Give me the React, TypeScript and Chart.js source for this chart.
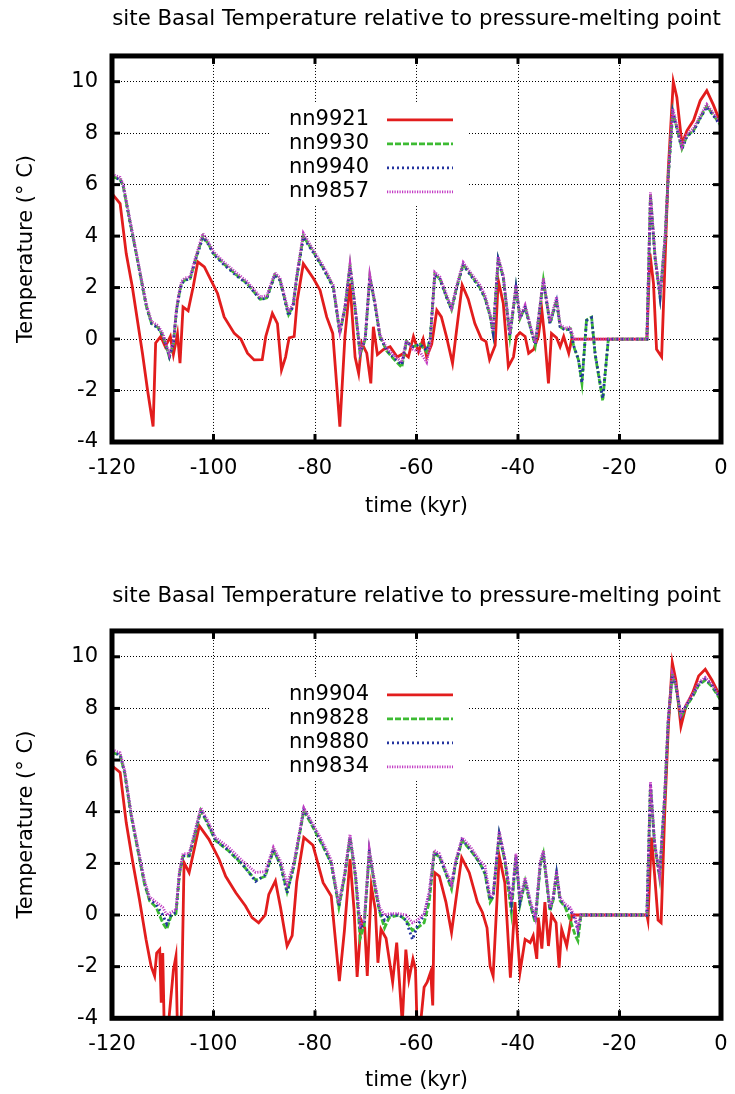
import React, { useEffect, useRef } from "react";
import { Chart, registerables } from "chart.js";

Chart.register(...registerables);

// ---------- text ----------
const chartTitle = "site Basal Temperature relative to pressure-melting point";
const xAxisLabel = "time (kyr)";
const yAxisLabel = "Temperature (\u00B0 C)";

// ---------- axes ----------
const xMin = -120;
const xMax = 0;
const xStep = 20;
const yMin = -4;
const yMax = 11;
const yStep = 2;

// ---------- top panel ----------
const topNames = ["nn9921", "nn9930", "nn9940", "nn9857"];

const topRedTime = [
  -120, -118.4, -117.2, -116, -115, -114, -113, -111.9, -111.4, -110.4,
  -109.5, -108.5, -107.9, -107.1, -106.6, -106, -105, -104, -103.1, -101.8,
  -100.5, -99.2, -97.9, -95.9, -94.6, -93.3, -92, -90.4, -89.7, -88.4,
  -87.4, -86.6, -85.8, -85.1, -84.1, -83.5, -82.3, -80.3, -79, -77.7,
  -76.5, -75.1, -74.1, -73.1, -72.1, -71.4, -70.8, -69.8, -69, -68.5,
  -67.7, -66.5, -65.2, -63.8, -62.5, -61.6, -60.6, -59.6, -58.7, -58,
  -57, -56, -55.1, -54.1, -52.9, -52.1, -51, -49.8, -48.5, -47.2,
  -46.3, -45.6, -44.5, -43.9, -42.9, -41.9, -40.9, -40.3, -39.6, -38.6,
  -37.9, -36.9, -36, -35.3, -34.7, -34, -33.4, -32.4, -31.7, -31,
  -30, -29.4, -14.6, -14, -13.3, -12.7, -11.7, -11.1, -10.4, -9.4,
  -8.7, -7.7, -6.7, -5.4, -4.1, -2.8, -1.5, 0,
];
const topRedTemp = [
  5.65, 5.26, 3.32, 2.03, 0.74, -0.55, -1.98, -3.4, -0.15, 0.1,
  -0.3, 0.1, -0.6, 0.2, -0.94, 1.25, 1.1, 2.03, 3.0, 2.8,
  2.29, 1.77, 0.86, 0.22, 0, -0.55, -0.81, -0.8, 0.1, 1.0,
  0.6, -1.2, -0.7, 0.05, 0.1, 1.5, 2.93, 2.35, 1.9, 0.86,
  0.22, -3.4, 0.1, 2.16, -0.7, -1.33, -0.15, -0.55, -1.72, 0.48,
  -0.6, -0.4, -0.3, -0.7, -0.55, -0.7, 0.1, -0.5, 0, -0.7,
  -0.2, 1.12, 0.86, 0.1, -0.94, 0.35, 2.1, 1.55, 0.6, 0,
  -0.1, -0.8, -0.25, 2.29, 1.38, -1.07, -0.7, 0.1, 0.25, 0.1,
  -0.55, -0.4, 0.1, 1.12, 0, -1.72, 0.22, 0.05, -0.3, 0.1,
  -0.55, 0, 0, 3.32, 2.16, -0.4, -0.69, 2.6, 6.55, 10.0,
  9.4, 7.58, 8.1, 8.5, 9.26, 9.65, 9.1, 8.36,
];

const topGroupTime = [
  -120, -118.4, -117.8, -116.5, -115.1, -114.1, -113.2, -112.2, -110.9, -109.9,
  -108.7, -107.9, -107.3, -106.8, -106.3, -105.6, -104.6, -103.6, -102.1, -101,
  -100, -98, -95.4, -93.4, -90.8, -89.5, -87.9, -86.9, -85.2, -84.3,
  -83.6, -82.3, -80.3, -78.4, -76.4, -75.1, -74.1, -73.1, -72.2, -71.1,
  -70.1, -69.2, -68.2, -67.2, -65.9, -64.6, -62.9, -62, -60.7, -59.3,
  -58, -57.3, -56.4, -55.4, -54, -53.1, -52.1, -50.8, -49.5, -47.5,
  -46.5, -45.5, -44.9, -43.9, -42.9, -41.6, -40.4, -39.6, -38.6, -37.6,
  -36.6, -35, -33.7, -32.4, -31.7, -30.7, -29.7, -29, -28.1, -27.4,
  -26.5, -25.5, -24.8, -23.3, -22.2, -14.6, -13.9, -13, -12, -11,
  -10.4, -9.5, -8.7, -7.7, -6.7, -5.4, -4.1, -2.8, -1.5, 0,
];
const topGreenTemp = [
  6.32, 6.2, 5.95, 4.6, 3.19, 2.16, 1.25, 0.6, 0.45, 0.1,
  -0.7, -0.17, 1.1, 1.7, 2.16, 2.3, 2.35, 3.06, 4.0, 3.7,
  3.32, 2.93, 2.48, 2.16, 1.55, 1.6, 2.5, 2.3, 0.95, 1.3,
  2.4, 4.0, 3.38, 2.77, 2.03, 0.22, 1.2, 2.85, 1.38, -0.6,
  0.0, 2.41, 1.38, 0.1, -0.45, -0.75, -1.1, -0.1, -0.3, -0.2,
  -0.5, 0, 2.5, 2.35, 1.6, 1.15, 2.0, 2.9, 2.55, 2.0,
  1.6, 0.9, 0.22, 3.1, 2.4, 0.1, 2.0, 0.8, 1.25, 0.48,
  -0.25, 2.29, 0.6, 1.5, 0.48, 0.35, 0.4, -0.3, -0.8, -1.72,
  0.74, 0.85, -0.6, -2.4, 0, 0, 5.6, 3.19, 1.64, 3.97,
  6.3, 8.85, 8.2, 7.4, 7.9, 8.1, 8.6, 9.05, 8.7, 8.3,
];
const topBlueTemp = [
  6.3, 6.2, 5.95, 4.6, 3.2, 2.15, 1.25, 0.6, 0.42, 0.1,
  -0.68, -0.15, 1.1, 1.7, 2.15, 2.28, 2.35, 3.05, 3.95, 3.68,
  3.3, 2.9, 2.45, 2.15, 1.55, 1.58, 2.5, 2.28, 0.9, 1.28,
  2.38, 3.95, 3.35, 2.75, 2.0, 0.25, 1.2, 2.8, 1.38, -0.55,
  0.0, 2.4, 1.36, 0.1, -0.42, -0.7, -1.0, -0.1, -0.3, -0.2,
  -0.45, 0, 2.5, 2.33, 1.58, 1.13, 1.98, 2.88, 2.52, 1.98,
  1.58, 0.9, 0.24, 3.1, 2.38, 0.12, 2.0, 0.8, 1.24, 0.48,
  -0.22, 2.27, 0.6, 1.48, 0.48, 0.35, 0.38, -0.28, -0.78, -1.7,
  0.72, 0.83, -0.58, -2.3, 0, 0, 5.55, 3.15, 1.62, 3.95,
  6.28, 8.82, 8.2, 7.38, 7.88, 8.08, 8.58, 9.02, 8.68, 8.28,
];
const topMagentaTemp = [
  6.4, 6.28, 6.02, 4.68, 3.27, 2.24, 1.33, 0.68, 0.52, 0.18,
  -0.6, -0.1, 1.18, 1.78, 2.24, 2.38, 2.42, 3.14, 4.1, 3.78,
  3.4, 3.0, 2.56, 2.24, 1.64, 1.68, 2.58, 2.38, 1.05, 1.38,
  2.48, 4.12, 3.45, 2.85, 2.1, 0.3, 1.28, 2.9, 1.45, -0.5,
  0.08, 2.48, 1.45, 0.18, -0.35, -0.6, -0.9, -0.05, -0.4, -0.5,
  -0.9, -0.2, 2.6, 2.42, 1.68, 1.22, 2.08, 2.98, 2.62, 2.1,
  1.7, 0.98, 0.3, 3.2, 2.48, 0.2, 2.1, 0.88, 1.32, 0.56,
  -0.15, 2.36, 0.68, 1.64, 0.56, 0.42, 0.46, 0, 0, 0,
  0, 0, 0, 0, 0, 0, 5.7, 3.25, 1.7, 4.05,
  6.38, 8.95, 8.3, 7.48, 7.98, 8.18, 8.68, 9.12, 8.78, 8.36,
];

// ---------- bottom panel ----------
const bottomNames = ["nn9904", "nn9828", "nn9880", "nn9834"];

const bottomRedTime = [
  -120, -118.4, -117.2, -115.9, -114.6, -113.3, -112.3, -111.6, -111.2, -110.6,
  -110.3, -110, -109.7, -109, -107.9, -107.4, -107.1, -106.4, -105.8, -104.8,
  -103.8, -102.8, -100.9, -98.9, -97.6, -95.6, -93.7, -92.4, -91.1, -89.8,
  -89.1, -87.8, -86.8, -85.5, -84.5, -83.6, -82.2, -80.4, -78.4, -76.8,
  -75.2, -74.2, -73.1, -72.3, -71.7, -70.9, -70.2, -69.7, -68.9, -68.1,
  -67.6, -67, -66, -64.7, -63.9, -62.8, -62.1, -61.5, -60.7, -60.2,
  -59.9, -59.2, -58.5, -57.9, -57.2, -56.8, -56.4, -55.5, -54.2, -53.1,
  -52.3, -51.1, -49.6, -48, -47, -46.1, -45.5, -44.9, -43.7, -42.6,
  -41.5, -40.6, -39.6, -38.6, -37.6, -37, -36.3, -36, -35.3, -34.7,
  -34, -33.4, -32.5, -31.9, -31.4, -30.4, -29.4, -14.6, -14.4, -13.7,
  -13.1, -12.4, -11.8, -11.1, -10.4, -9.6, -8.9, -7.9, -6.9, -5.6,
  -4.4, -3.1, -1.8, 0,
];
const bottomRedTemp = [
  5.78, 5.52, 3.58, 2.03, 0.61, -0.94, -1.98, -2.36, -1.47, -1.34,
  -3.4, -1.47, -4.5, -4.5, -2.13, -1.6, -4.5, -4.5, 2.03, 1.64,
  2.55, 3.45, 2.93, 2.16, 1.5, 0.86, 0.35, -0.1, -0.3, 0.0,
  0.8, 1.32, 0.3, -1.2, -0.8, 1.3, 3.0, 2.7, 1.25, 0.74,
  -2.56, -0.6, 2.16, 0.2, -2.4, -0.2, -0.5, -2.36, 1.12, 0.2,
  -1.85, -0.55, -0.9, -2.6, -1.07, -4.2, -1.34, -2.5, -1.7, -2.1,
  -4.2, -4.2, -2.8, -2.6, -2.2, -3.5, 1.64, 1.5, 0.5, -0.68,
  0.5, 2.22, 1.64, 0.5, 0.1, -0.5, -1.98, -2.36, 2.29, 1.25,
  -2.43, 0.5, -2.2, -0.94, -1.07, -0.8, -1.7, -0.1, -1.3, 0.5,
  -1.2, 0, -0.3, -2.04, -0.55, -1.2, 0, 0, -0.2, 3.0,
  1.6, -0.2, -0.3, 3.9, 7.2, 9.78, 9.1, 7.3, 8.1, 8.6,
  9.26, 9.52, 9.1, 8.4,
];

const bottomGroupTime = [
  -120, -118.4, -117.5, -116.2, -114.9, -113.6, -112.6, -111.3, -110, -109.2,
  -108.4, -107.4, -106.7, -106, -104.8, -103.8, -102.5, -101.2, -99.6, -97,
  -94.3, -91.7, -89.8, -88.2, -86.8, -85.5, -84.2, -83.6, -82.2, -80.4,
  -78.4, -76.8, -75.3, -74.2, -73.1, -72, -71.1, -70.3, -69.3, -68.3,
  -67.3, -66.3, -65.4, -63.4, -62.1, -60.8, -59.8, -58.5, -57.5, -56.5,
  -55.5, -54.2, -53.1, -52.3, -51, -49.3, -47.5, -46.5, -45.5, -44.9,
  -43.7, -42.6, -41.3, -40.4, -39.6, -38.6, -37.6, -36.6, -35.6, -35,
  -33.7, -33.1, -32.4, -31.7, -30.7, -29.7, -28.7, -28.2, -27.6, -14.6,
  -13.9, -13.1, -12.1, -11.1, -10.4, -9.6, -8.9, -7.9, -6.9, -5.6,
  -4.4, -3.1, -1.8, 0,
];
const bottomGreenTemp = [
  6.3, 6.18, 5.5, 3.82, 2.5, 1.2, 0.55, 0.3, -0.3, -0.55,
  -0.05, 0.05, 1.6, 2.28, 2.28, 3.0, 4.05, 3.55, 2.88, 2.48,
  1.95, 1.35, 1.5, 2.5, 1.95, 0.9, 1.85, 2.5, 4.05, 3.4,
  2.65, 2.0, 0.3, 1.45, 3.0, 1.45, -0.9, -0.4, 2.45, 1.2,
  0.15, -0.5, -0.1, 0, -0.2, -0.6, -0.5, -0.3, 0.5, 2.4,
  2.25, 1.6, 1.0, 2.0, 2.88, 2.5, 2.0, 1.6, 0.5, 0.7,
  3.1, 2.1, 0.1, 2.3, 0.4, 1.3, 0.4, -0.3, 1.95, 2.38,
  0.15, 0.55, 1.6, 0.55, 0.3, -0.2, -0.8, -1.0, 0, 0,
  5.05, 2.75, 1.45, 4.55, 7.5, 9.3, 8.85, 7.65, 8.05, 8.45,
  8.9, 9.1, 8.85, 8.3,
];
const bottomBlueTemp = [
  6.32, 6.2, 5.52, 3.84, 2.55, 1.26, 0.61, 0.4, 0.0, -0.35,
  0, 0.1, 1.64, 2.3, 2.3, 3.06, 4.08, 3.6, 2.9, 2.5,
  1.98, 1.3, 1.55, 2.55, 1.95, 0.85, 1.9, 2.55, 4.1, 3.45,
  2.7, 2.0, 0.35, 1.5, 3.02, 1.5, -0.55, -0.3, 2.45, 1.25,
  0.2, -0.2, 0, 0, -0.2, -0.95, -0.4, 0, 0.8, 2.42,
  2.3, 1.62, 1.1, 2.02, 2.92, 2.52, 2.02, 1.62, 0.6, 0.74,
  3.15, 2.15, 0.45, 2.28, 0.5, 1.36, 0.5, -0.2, 2.0, 2.4,
  0.2, 0.6, 1.62, 0.6, 0.35, 0.2, -0.2, -0.6, 0, 0,
  5.1, 2.8, 1.5, 4.6, 7.55, 9.3, 8.9, 7.7, 8.1, 8.5,
  8.95, 9.15, 8.9, 8.35,
];
const bottomMagentaTemp = [
  6.4, 6.28, 5.6, 3.92, 2.63, 1.34, 0.7, 0.5, 0.3, 0.0,
  0.1, 0.2, 1.72, 2.38, 2.38, 3.14, 4.15, 3.68, 3.0, 2.62,
  2.1, 1.65, 1.68, 2.62, 2.1, 1.2, 1.98, 2.62, 4.15, 3.52,
  2.8, 2.12, 0.45, 1.58, 3.12, 1.58, -0.4, -0.2, 2.55, 1.35,
  0.3, 0, 0.05, 0.05, 0, -0.3, -0.2, 0.05, 0.9, 2.5,
  2.38, 1.72, 1.2, 2.1, 3.0, 2.62, 2.1, 1.9, 0.7, 0.82,
  3.25, 2.22, 0.5, 2.38, 0.58, 1.45, 0.58, -0.1, 2.1, 2.5,
  0.28, 0.68, 1.72, 0.68, 0.42, 0.28, -0.1, -0.5, 0, 0,
  5.15, 2.85, 1.55, 4.65, 7.6, 9.35, 8.95, 7.75, 8.15, 8.55,
  9.0, 9.2, 8.95, 8.4,
];

// ---------- styles ----------
const FONT = "'DejaVu Sans', 'Liberation Sans', sans-serif";
const FONT_SIZE = 21;
const TITLE_SIZE = 21.3;
const seriesColors = ["#e21d1d", "#3dbb33", "#24349f", "#c23dc4"];
const seriesDashes = [[], [6, 2], [2, 3], [1.2, 1.3]];
const seriesWidth = 2.8;

type Pt = { x: number; y: number };
const zip = (t: number[], v: number[]): Pt[] => t.map((x, i) => ({ x, y: v[i] }));

const boxLegendPlugin = {
  id: "boxLegend",
  beforeDatasetsDraw(chart: any, _args: any, opts: any) {
    const { ctx, chartArea: a } = chart;
    ctx.save();
    ctx.fillStyle = "#ffffff";
    ctx.fillRect(a.left + opts.boxLeft, a.top + opts.boxTop, opts.boxWidth, opts.boxHeight);
    ctx.font = `${FONT_SIZE}px ${FONT}`;
    ctx.textAlign = "right";
    ctx.textBaseline = "middle";
    chart.data.datasets.forEach((ds: any, i: number) => {
      const y = a.top + opts.firstRow + i * opts.rowGap;
      ctx.fillStyle = "#000";
      ctx.fillText(ds.label, a.left + opts.textRight, y);
      ctx.strokeStyle = ds.borderColor;
      ctx.lineWidth = ds.borderWidth;
      ctx.setLineDash(ds.borderDash || []);
      ctx.beginPath();
      ctx.moveTo(a.left + opts.lineStart, y);
      ctx.lineTo(a.left + opts.lineEnd, y);
      ctx.stroke();
    });
    ctx.restore();
  },
};

const framePlugin = {
  id: "frame",
  afterDatasetsDraw(chart: any) {
    const { ctx, chartArea: a, scales } = chart;
    ctx.save();
    ctx.setLineDash([]);
    ctx.strokeStyle = "#000";
    ctx.lineWidth = 5;
    ctx.strokeRect(a.left, a.top, a.right - a.left, a.bottom - a.top);
    ctx.lineWidth = 3;
    const tl = 8;
    const seg = (x1: number, y1: number, x2: number, y2: number) => {
      ctx.beginPath();
      ctx.moveTo(x1, y1);
      ctx.lineTo(x2, y2);
      ctx.stroke();
    };
    scales.x.ticks.forEach((t: any) => {
      const px = scales.x.getPixelForValue(t.value);
      seg(px, a.top, px, a.top + tl);
      seg(px, a.bottom, px, a.bottom - tl);
    });
    scales.y.ticks.forEach((t: any) => {
      const py = scales.y.getPixelForValue(t.value);
      seg(a.left, py, a.left + tl, py);
      seg(a.right, py, a.right - tl, py);
    });
    ctx.restore();
  },
};

type PanelLayout = {
  titleTop: number;
  titleBottom: number;
  xAxisHeight: number;
  xTitleBottom: number;
};

function makeConfig(names: string[], series: Pt[][], pl: PanelLayout): any {
  const font = { family: FONT, size: FONT_SIZE, weight: "normal" as const, lineHeight: 1.2 };
  const titleFont = { family: FONT, size: TITLE_SIZE, weight: "normal" as const, lineHeight: 1.2 };
  return {
    type: "line",
    data: {
      datasets: names.map((n, i) => ({
        label: n,
        data: series[i],
        borderColor: seriesColors[i],
        backgroundColor: seriesColors[i],
        borderDash: seriesDashes[i],
        borderWidth: seriesWidth,
        pointRadius: 0,
        pointHoverRadius: 0,
        fill: false,
        tension: 0,
        order: 3 - i,
      })),
    },
    options: {
      responsive: false,
      animation: false,
      devicePixelRatio: 1,
      events: [],
      layout: { padding: { left: 0, right: 14, top: 0, bottom: 0 } },
      plugins: {
        legend: { display: false },
        tooltip: { enabled: false },
        title: {
          display: true,
          text: chartTitle,
          fullSize: false,
          color: "#000",
          font: titleFont,
          padding: { top: pl.titleTop, bottom: pl.titleBottom },
        },
        boxLegend: {
          boxLeft: 158,
          boxTop: 46,
          boxWidth: 197,
          boxHeight: 104,
          firstRow: 64,
          rowGap: 24,
          textRight: 257,
          lineStart: 275,
          lineEnd: 341,
        },
      },
      scales: {
        x: {
          type: "linear",
          min: xMin,
          max: xMax,
          afterFit: (s: any) => {
            s.height = pl.xAxisHeight;
            s.paddingLeft = 0;
            s.paddingRight = 0;
          },
          ticks: { stepSize: xStep, color: "#000", font, padding: 14, maxRotation: 0, autoSkip: false },
          grid: { color: "#000", lineWidth: 1, drawTicks: false },
          border: { display: false, dash: [1, 2] },
          title: {
            display: true,
            text: xAxisLabel,
            color: "#000",
            font,
            padding: { top: 0, bottom: pl.xTitleBottom },
          },
        },
        y: {
          type: "linear",
          min: yMin,
          max: yMax,
          afterFit: (s: any) => {
            s.width = 112;
            s.paddingTop = 0;
            s.paddingBottom = 0;
          },
          ticks: { stepSize: yStep, includeBounds: false, color: "#000", font, padding: 14 },
          grid: { color: "#000", lineWidth: 1, drawTicks: false },
          border: { display: false, dash: [1, 2] },
          title: {
            display: true,
            text: yAxisLabel,
            color: "#000",
            font,
            padding: { top: 14, bottom: 0 },
          },
        },
      },
    },
    plugins: [boxLegendPlugin, framePlugin],
  };
}

function Panel({ names, series, pl }: { names: string[]; series: Pt[][]; pl: PanelLayout }) {
  const ref = useRef<HTMLCanvasElement | null>(null);
  useEffect(() => {
    if (!ref.current) return;
    const chart = new Chart(ref.current, makeConfig(names, series, pl));
    return () => chart.destroy();
  }, []);
  return <canvas ref={ref} width={735} height={547} style={{ display: "block", width: 735, height: 547 }} />;
}

const topLayout: PanelLayout = { titleTop: 7, titleBottom: 23.4, xAxisHeight: 105, xTitleBottom: 27.4 };
const bottomLayout: PanelLayout = { titleTop: 37, titleBottom: 21.4, xAxisHeight: 75.7, xTitleBottom: 1 };

export default function App() {
  useEffect(() => {
    document.body.style.margin = "0";
    document.body.style.background = "#fff";
  }, []);
  const topSeries = [
    zip(topRedTime, topRedTemp),
    zip(topGroupTime, topGreenTemp),
    zip(topGroupTime, topBlueTemp),
    zip(topGroupTime, topMagentaTemp),
  ];
  const bottomSeries = [
    zip(bottomRedTime, bottomRedTemp),
    zip(bottomGroupTime, bottomGreenTemp),
    zip(bottomGroupTime, bottomBlueTemp),
    zip(bottomGroupTime, bottomMagentaTemp),
  ];
  return (
    <div style={{ width: 735, height: 1094, background: "#fff" }}>
      <Panel names={topNames} series={topSeries} pl={topLayout} />
      <Panel names={bottomNames} series={bottomSeries} pl={bottomLayout} />
    </div>
  );
}
